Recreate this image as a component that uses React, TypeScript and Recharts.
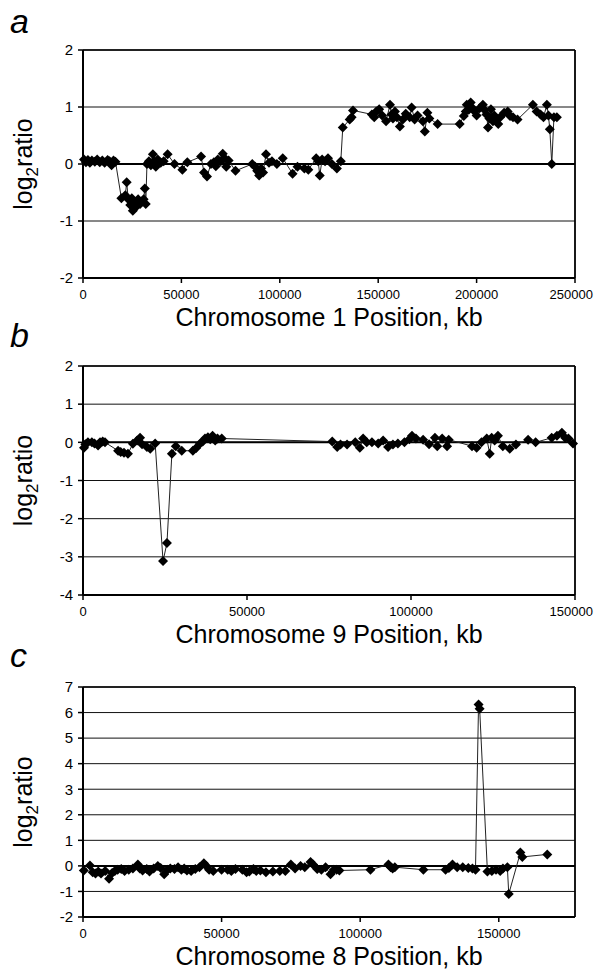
import React from 'react';
import { LineChart, Line, XAxis, YAxis, CartesianGrid, ReferenceLine } from 'recharts';

const FONT = '"Liberation Sans", Arial, Helvetica, sans-serif';

// Panel a: Chromosome 1 (position kb, log2 ratio)
const chr1Pos = [500, 1500, 2500, 3500, 4500, 6000, 7200, 8500, 9800, 11000, 12500, 13500, 14500, 15500, 16500,
  19500, 21500, 22200, 23000, 24000, 24800, 25300, 26000, 27000, 28000, 29000, 30000, 30800, 31400, 31900,
  32500, 33500, 34500, 35500, 36000, 37000, 38000, 39500, 41000, 43000, 46500, 50500, 53000, 60000, 61500, 63000,
  65000, 66500, 67500, 68500, 70000, 71000, 72000, 72800, 74000, 77500,
  86000, 87500, 88500, 89500, 90500, 91500, 93000, 94500, 96000, 98500, 101500, 106500, 109000, 112500, 114500,
  118500, 119500, 120300, 121500, 123000, 124500, 126500, 129000, 131000,
  132000, 135500, 136500, 137200, 146800, 148000, 149000, 150500, 152000, 154000, 156000, 156800, 157500, 158500,
  159500, 161000, 162500, 164000, 166000, 167000, 168500, 170000, 172700, 173700, 175000, 176000, 180200, 191400,
  193500, 194500, 195000, 196000, 197000, 198000, 199000, 200000, 201500, 203200, 204000, 205000, 205800, 206500,
  207300, 208300, 209000, 210000, 211000, 212000, 214000, 215800, 217000, 218500, 220800, 228600, 230500, 232500,
  234000, 235700, 236500, 237200, 238200, 239300, 240800];
const chr1Ratio = [0.08, 0.03, 0.07, 0.02, 0.06, 0.04, 0.08, 0.03, 0.06, 0.02, 0.07, 0.05, -0.02, 0.06, 0.04,
  -0.6, -0.55, -0.32, -0.62, -0.72, -0.6, -0.82, -0.68, -0.75, -0.62, -0.7, -0.66, -0.62, -0.43, -0.7,
  0.0, 0.05, -0.02, 0.17, 0.05, -0.05, 0.08, 0.02, 0.05, 0.17, 0.0, -0.1, 0.03, 0.13, -0.15, -0.22,
  0.0, 0.03, -0.04, 0.08, 0.05, 0.18, 0.1, -0.05, 0.06, -0.12,
  0.0, -0.05, -0.12, -0.2, -0.08, -0.15, 0.17, 0.02, 0.05, 0.0, 0.1, -0.17, -0.05, -0.08, -0.1,
  0.1, 0.05, -0.2, 0.08, 0.05, 0.1, 0.0, -0.08, 0.05,
  0.64, 0.78, 0.82, 0.94, 0.87, 0.82, 0.92, 0.96, 0.85, 0.75, 1.04, 0.87, 0.8, 0.92,
  0.82, 0.66, 0.78, 0.88, 0.82, 0.99, 0.78, 0.85, 0.75, 0.57, 0.9, 0.8, 0.7, 0.7,
  0.84, 0.92, 1.04, 0.95, 1.08, 0.98, 0.92, 0.85, 0.98, 1.04, 0.95, 0.87, 0.64, 0.8,
  0.96, 0.75, 0.85, 0.78, 0.7, 0.82, 0.9, 0.92, 0.84, 0.82, 0.78, 1.04, 0.92, 0.87,
  0.82, 1.04, 0.85, 0.61, 0.0, 0.82, 0.82];

// Panel b: Chromosome 9
const chr9Pos = [300, 700, 1500, 2700, 3500, 4600, 5200, 6000, 6700, 10700, 11500, 12500, 13700, 15200, 16500, 17400,
  18000, 19500, 20500, 22000, 24400, 25600, 27100, 28300, 30100, 33500, 34500, 35700, 36500, 37200, 38100, 38800,
  39500, 40300, 41000, 42300,
  76000, 77500, 78500, 80500, 83000, 84400, 85400, 86500, 88100, 90000, 91500, 93000, 94500, 96000, 98000, 99500,
  100300, 101500, 103700, 105500, 107300, 108000, 109500, 111000, 111500, 118600, 120000, 121500, 123100, 124000,
  124600, 125500, 126500, 128000, 130100, 132000, 135700, 138000, 142900, 144500, 146000, 147000, 148000, 149400];
const chr9Ratio = [-0.14, -0.05, 0.0, 0.0, -0.03, -0.08, 0.0, 0.02, 0.0, -0.22, -0.25, -0.27, -0.3, -0.04, 0.05, 0.12,
  -0.05, -0.12, -0.17, -0.03, -3.11, -2.64, -0.3, -0.1, -0.22, -0.22, -0.15, -0.03, 0.02, 0.1, 0.13, 0.08,
  0.17, 0.05, 0.1, 0.1,
  0.02, -0.12, -0.06, -0.06, 0.0, -0.14, 0.1, 0.0, 0.0, -0.03, 0.05, -0.12, -0.06, -0.03, 0.0, 0.08,
  0.17, 0.1, 0.07, -0.05, 0.12, -0.1, 0.1, -0.1, 0.07, -0.1, -0.14, 0.0, 0.1, -0.3,
  0.12, 0.05, 0.17, -0.1, -0.17, -0.06, 0.07, 0.0, 0.12, 0.17, 0.25, 0.12, 0.1, -0.03];

// Panel c: Chromosome 8
const chr8Pos = [300, 2500, 3500, 4500, 5500, 6500, 8000, 9400, 10500, 11500, 12500, 13800, 15000, 16500, 18000,
  19800, 20500, 21500, 23000, 24000, 25500, 27000, 28000, 29300, 30500, 31500, 33000, 34300, 35500, 36500, 37500,
  39000, 40500, 42000, 43600, 44500, 45500, 47000, 50000, 52200, 53500, 55000, 57500, 59000, 60000, 61500, 62500,
  64000, 66000, 68500, 71000, 73000, 75000, 76500, 78500, 80000, 82100, 83000, 84500, 86000, 87500, 89300, 90500,
  91500, 92500, 103700, 110200, 111000, 111700, 112500, 122800, 130800, 132000, 133300, 135000, 137000, 139000,
  140500, 141600, 142700, 143100, 145900, 147500, 149000, 150500, 151500, 153100, 153600, 157800, 158500, 167500];
const chr8Ratio = [-0.18, 0.02, -0.25, -0.3, -0.22, -0.3, -0.2, -0.5, -0.28, -0.2, -0.15, -0.12, -0.2, -0.15, -0.1,
  0.05, -0.1, -0.18, -0.12, -0.22, -0.1, 0.0, -0.08, -0.33, -0.15, -0.1, -0.12, -0.05, -0.15, -0.1, -0.18,
  -0.2, -0.12, -0.05, 0.1, 0.0, -0.15, -0.2, -0.15, -0.15, -0.2, -0.12, -0.15, -0.25, -0.22, -0.12, -0.2,
  -0.18, -0.25, -0.22, -0.2, -0.2, 0.05, -0.1, 0.0, -0.05, 0.15, 0.05, -0.12, -0.15, -0.05, -0.33, -0.15,
  -0.15, -0.18, -0.15, 0.05, -0.05, -0.1, -0.05, -0.15, -0.15, -0.08, 0.05, -0.05, -0.05, -0.08,
  -0.1, -0.15, 6.32, 6.15, -0.22, -0.2, -0.15, -0.2, -0.1, -0.05, -1.1, 0.52, 0.35, 0.45];

const chr1Ticks = [0, 50000, 100000, 150000, 200000, 250000];
const chr9Ticks = [0, 50000, 100000, 150000];
const chr8Ticks = [0, 50000, 100000, 150000];
const yTicksA = [-2, -1, 0, 1, 2];
const yTicksB = [-4, -3, -2, -1, 0, 1, 2];
const yTicksC = [-2, -1, 0, 1, 2, 3, 4, 5, 6, 7];

const toRows = (pos: number[], ratio: number[]) => pos.map((p, i) => ({ pos: p, ratio: ratio[i] }));

const renderDiamond = (p: any) => {
  const { cx, cy, index } = p;
  if (cx == null || cy == null) return <g key={`e-${index}`} />;
  const r = 5;
  return (
    <path
      key={`d-${index}`}
      d={`M${cx},${cy - r}L${cx + r},${cy}L${cx},${cy + r}L${cx - r},${cy}Z`}
      fill="#000"
    />
  );
};

const XTick = (p: any) => {
  const { x, y, payload } = p;
  const label = String(payload.value);
  const halfW = label.length * 3.62;
  let tx = x;
  let anchor: 'middle' | 'end' = 'middle';
  if (x + halfW > 593) {
    tx = 593;
    anchor = 'end';
  }
  return (
    <text x={tx} y={y} dy="0.71em" textAnchor={anchor} fontSize={13} fontFamily={FONT} fill="#000">
      {label}
    </text>
  );
};

type PanelProps = {
  top: number;
  height: number;
  marginTop: number;
  plotHeight: number;
  rows: { pos: number; ratio: number }[];
  xDomain: [number, number];
  xTicks: number[];
  yDomain: [number, number];
  yTicks: number[];
  title: string;
};

const Panel = ({ top, height, marginTop, plotHeight, rows, xDomain, xTicks, yDomain, yTicks, title }: PanelProps) => {
  const xh = height - marginTop - plotHeight;
  return (
    <div style={{ position: 'absolute', left: 0, top, width: 594, height }}>
      <LineChart width={594} height={height} data={rows} margin={{ top: marginTop, right: 19, left: 0, bottom: 0 }}>
        <CartesianGrid horizontal vertical={false} stroke="#111" strokeWidth={1} />
        <XAxis
          type="number"
          dataKey="pos"
          domain={xDomain}
          ticks={xTicks}
          interval={0}
          height={xh}
          tickSize={5}
          tickMargin={7}
          tick={<XTick />}
          tickLine={{ stroke: '#000', strokeWidth: 1.5 }}
          axisLine={{ stroke: '#000', strokeWidth: 2 }}
          label={{
            content: (lp: any) => {
              const vb = lp.viewBox || {};
              return (
                <text x={vb.x + vb.width / 2} y={vb.y + 48} textAnchor="middle" fontSize={25} fontFamily={FONT} fill="#000">
                  {title}
                </text>
              );
            },
          }}
        />
        <YAxis
          type="number"
          domain={yDomain}
          ticks={yTicks}
          interval={0}
          width={83}
          tickSize={5}
          tickMargin={5}
          tick={{ fontSize: 15, fill: '#000', fontFamily: FONT }}
          tickLine={{ stroke: '#000', strokeWidth: 1.5 }}
          axisLine={{ stroke: '#000', strokeWidth: 2 }}
          label={{
            content: (lp: any) => {
              const vb = lp.viewBox || {};
              const cy = vb.y + vb.height / 2;
              const cx = 32;
              return (
                <text x={cx} y={cy} transform={`rotate(-90, ${cx}, ${cy})`} textAnchor="middle" fontSize={25} fontFamily={FONT} fill="#000">
                  log<tspan fontSize={17} dy={6}>2</tspan><tspan dy={-6}>ratio</tspan>
                </text>
              );
            },
          }}
        />
        <ReferenceLine y={0} stroke="#000" strokeWidth={2} />
        <ReferenceLine y={yDomain[1]} stroke="#000" strokeWidth={1.3} />
        <ReferenceLine x={xDomain[1]} stroke="#000" strokeWidth={1.8} />
        <Line
          type="linear"
          dataKey="ratio"
          stroke="#222"
          strokeWidth={1}
          dot={renderDiamond}
          activeDot={false}
          isAnimationActive={false}
        />
      </LineChart>
    </div>
  );
};

export default function App() {
  return (
    <div style={{ position: 'absolute', left: 0, top: 0, width: 594, height: 975, background: '#fff', overflow: 'hidden' }}>
      <svg width={594} height={975} style={{ position: 'absolute', left: 0, top: 0 }}>
        <text x={10} y={33} fontSize={34} fontStyle="italic" fontFamily={FONT} fill="#000">a</text>
        <text x={10} y={347} fontSize={34} fontStyle="italic" fontFamily={FONT} fill="#000">b</text>
        <text x={10} y={667} fontSize={34} fontStyle="italic" fontFamily={FONT} fill="#000">c</text>
      </svg>
      <Panel top={0} height={335} marginTop={50} plotHeight={228} rows={toRows(chr1Pos, chr1Ratio)}
        xDomain={[0, 250000]} xTicks={chr1Ticks} yDomain={[-2, 2]} yTicks={yTicksA} title="Chromosome 1 Position, kb" />
      <Panel top={335} height={322} marginTop={31} plotHeight={229} rows={toRows(chr9Pos, chr9Ratio)}
        xDomain={[0, 150000]} xTicks={chr9Ticks} yDomain={[-4, 2]} yTicks={yTicksB} title="Chromosome 9 Position, kb" />
      <Panel top={645} height={330} marginTop={42} plotHeight={230} rows={toRows(chr8Pos, chr8Ratio)}
        xDomain={[0, 177500]} xTicks={chr8Ticks} yDomain={[-2, 7]} yTicks={yTicksC} title="Chromosome 8 Position, kb" />
    </div>
  );
}
